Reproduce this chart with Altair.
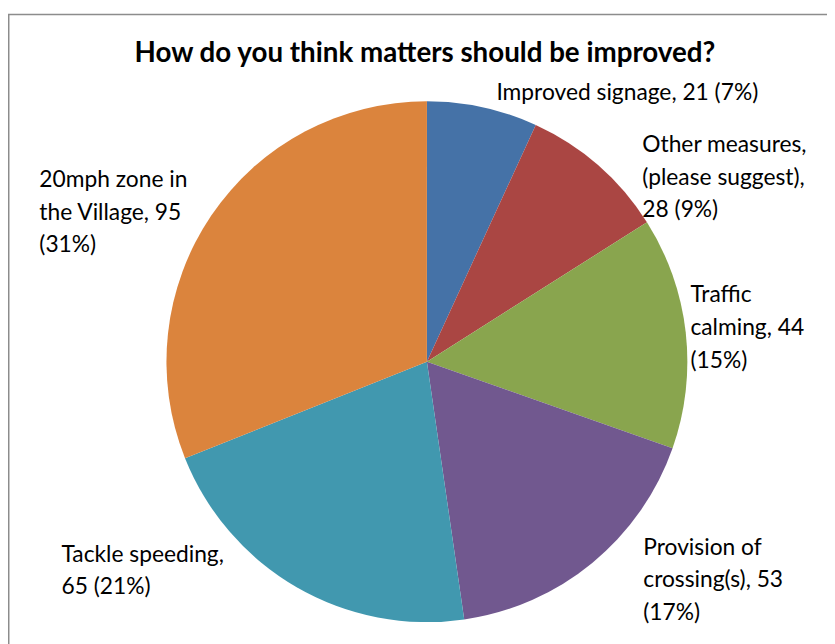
import altair as alt
import pandas as pd

categories = ["Improved signage", "Other measures, (please suggest)", "Traffic calming",
              "Provision of crossing(s)", "Tackle speeding", "20mph zone in the Village"]
values = [21, 28, 44, 53, 65, 95]
label_lines = [
    ["Improved signage, 21 (7%)"],
    ["Other measures,", "(please suggest),", "28 (9%)"],
    ["Traffic", "calming, 44", "(15%)"],
    ["Provision of", "crossing(s), 53", "(17%)"],
    ["Tackle speeding,", "65 (21%)"],
    ["20mph zone in", "the Village, 95", "(31%)"],
]
colors = ["#4572A7", "#AA4643", "#89A54E", "#71588F", "#4198AF", "#DB843D"]
title_text = "How do you think matters should be improved?"

df = pd.DataFrame({
    "category": categories,
    "value": values,
    "idx": list(range(len(categories))),
    "label": ["\n".join(l) for l in label_lines],
})

CX, CY = 423, 354
FONT = "Lato"

order = alt.Order("idx:Q", sort="ascending")
color = alt.Color("category:N", scale=alt.Scale(domain=categories, range=colors), legend=None)

base = alt.Chart(df)

pie = base.mark_arc(radius=263, stroke=None).encode(
    theta=alt.Theta("value:Q", stack=True), order=order, color=color,
    x=alt.value(CX), y=alt.value(CY),
)

# per-label offsets (style) relative to the mid-angle anchor
offsets = [(6, 29), (20, 14), (-32, -26), (28, -37), (-219, -58), (-143, -8)]
label_layers = []
for cat, (dx, dy) in zip(categories, offsets):
    label_layers.append(
        base.transform_window(cum="sum(value)", sort=[alt.SortField("idx", order="ascending")],
                              frame=[None, 0])
        .transform_calculate(mid="datum.cum - datum.value / 2")
        .transform_filter(alt.datum.category == cat)
        .mark_text(radius=300, align="left", baseline="alphabetic", dx=dx, dy=dy,
                   font=FONT, fontSize=23, lineHeight=33, lineBreak="\n", color="#000000")
        .encode(theta=alt.Theta("mid:Q", stack=None), text="label:N",
                x=alt.value(CX), y=alt.value(CY))
    )

one = alt.Data(values=[{"t": title_text}])
title = alt.Chart(one).mark_text(font=FONT, fontSize=28, fontWeight="bold", align="center",
                                 baseline="alphabetic", color="#000000").encode(
    text="t:N", x=alt.value(421), y=alt.value(51))

frame_left = alt.Chart(one).mark_rule(color="#8c8c8c", strokeWidth=1.5).encode(
    x=alt.value(0.75), y=alt.value(3), y2=alt.value(640))
frame_top = alt.Chart(one).mark_rule(color="#8c8c8c", strokeWidth=1.5).encode(
    x=alt.value(0), x2=alt.value(830), y=alt.value(3.5))

chart = alt.layer(pie, *label_layers, title, frame_left, frame_top).properties(
    width=827, height=636, padding=0, autosize=alt.AutoSizeParams(type="none"),
    background="white",
).configure_view(stroke=None)

chart.save("out.html", embed_options={"renderer": "svg", "actions": False})
